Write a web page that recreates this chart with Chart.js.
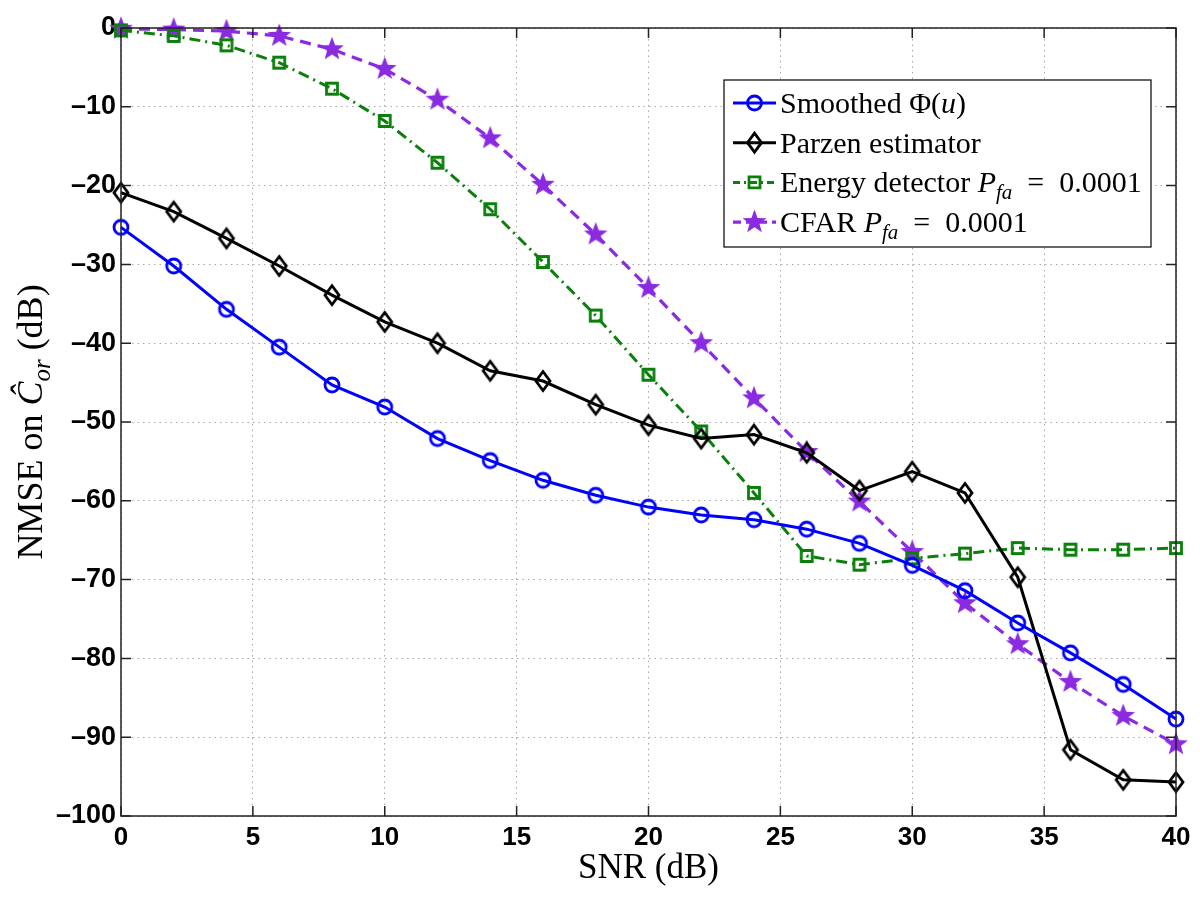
<!DOCTYPE html>
<html>
<head>
<meta charset="utf-8">
<script src="https://cdn.jsdelivr.net/npm/chart.js@4"></script>
<style>
  html, body { margin: 0; padding: 0; background: #fff; }
  #wrap { width: 1200px; height: 897px; }
</style>
</head>
<body>
<div id="wrap"><canvas id="myChart" width="1200" height="897"></canvas></div>
<script>
// SNR (dB) の値
const snr = [0, 2, 4, 6, 8, 10, 12, 14, 16, 18, 20, 22, 24, 26, 28, 30, 32, 34, 36, 38, 40];

// 各手法の NMSE (dB)
const smoothed = [-25.3, -30.2, -35.7, -40.5, -45.3, -48.1, -52.1, -54.9, -57.4, -59.3, -60.8,
                  -61.8, -62.4, -63.6, -65.4, -68.2, -71.4, -75.5, -79.3, -83.3, -87.7];
const parzen   = [-20.9, -23.3, -26.7, -30.2, -33.9, -37.3, -40.0, -43.5, -44.8, -47.8, -50.4,
                  -52.1, -51.6, -53.9, -58.7, -56.3, -59.0, -69.7, -91.6, -95.4, -95.7];
const energy   = [-0.3, -1.0, -2.2, -4.4, -7.7, -11.8, -17.1, -23.0, -29.7, -36.5, -44.0,
                  -51.2, -59.0, -67.0, -68.1, -67.3, -66.7, -66.0, -66.2, -66.2, -66.0];
const cfar     = [-0.1, -0.2, -0.4, -1.0, -2.7, -5.2, -9.1, -14.0, -19.9, -26.2, -33.0,
                  -40.0, -47.0, -53.8, -60.1, -66.5, -73.0, -78.2, -83.0, -87.3, -90.9];

const xTicks = [0, 5, 10, 15, 20, 25, 30, 35, 40];
const yTicks = [0, -10, -20, -30, -40, -50, -60, -70, -80, -90, -100];

const BLUE = '#0000ff';
const BLACK = '#000000';
const GREEN = '#0a800a';
const PURPLE = '#8a2be2';
const SERIF = '"Liberation Serif", "DejaVu Serif", serif';
const SANS = '"Liberation Sans", Arial, sans-serif';

// マーカー描画 (凡例とデータ点で共通)
function drawMarker(g, kind) {
    g.beginPath();
    if (kind === 'circle') {
        g.arc(0, 0, 7, 0, Math.PI * 2);
        g.strokeStyle = BLUE; g.lineWidth = 2.8; g.stroke();
    } else if (kind === 'diamond') {
        g.moveTo(0, -9.5); g.lineTo(7, 0); g.lineTo(0, 9.5); g.lineTo(-7, 0); g.closePath();
        g.strokeStyle = BLACK; g.lineWidth = 2.8; g.stroke();
    } else if (kind === 'square') {
        g.rect(-5.5, -5.5, 11, 11);
        g.strokeStyle = GREEN; g.lineWidth = 2.8; g.stroke();
    } else if (kind === 'star') {
        for (let i = 0; i < 10; i++) {
            const r = i % 2 === 0 ? 12.5 : 5.2;
            const a = -Math.PI / 2 + i * Math.PI / 5;
            const px = r * Math.cos(a), py = r * Math.sin(a);
            if (i === 0) g.moveTo(px, py); else g.lineTo(px, py);
        }
        g.closePath();
        g.fillStyle = PURPLE; g.fill();
    }
}

function makeMarker(kind) {
    const c = document.createElement('canvas');
    c.width = 30; c.height = 30;
    const g = c.getContext('2d');
    g.translate(15, 15);
    drawMarker(g, kind);
    return c;
}

const toPoints = ys => snr.map((x, i) => ({ x: x, y: ys[i] }));

const series = [
    { label: 'smoothed', data: smoothed, color: BLUE, marker: 'circle', dash: [], width: 3 },
    { label: 'parzen', data: parzen, color: BLACK, marker: 'diamond', dash: [], width: 3 },
    { label: 'energy', data: energy, color: GREEN, marker: 'square', dash: [11, 5, 2, 5], width: 3 },
    { label: 'cfar', data: cfar, color: PURPLE, marker: 'star', dash: [11, 7], width: 3.2 }
];

// 下付き・イタリックを含むテキストを描画
function drawRich(g, parts, x, y, size, align) {
    const fontOf = p => (p.it ? 'italic ' : '') + Math.round(size * (p.sub ? 0.7 : 1)) + 'px ' + SERIF;
    let total = 0;
    parts.forEach(p => { g.font = fontOf(p); total += g.measureText(p.t).width; });
    let cx = align === 'center' ? x - total / 2 : x;
    g.textBaseline = 'alphabetic';
    g.textAlign = 'left';
    parts.forEach(p => {
        g.font = fontOf(p);
        g.fillText(p.t, cx, y + (p.sub ? size * 0.22 : 0));
        cx += g.measureText(p.t).width;
    });
}

const legendItems = [
    { s: series[0], parts: [{ t: 'Smoothed Φ(' }, { t: 'u', it: true }, { t: ')' }] },
    { s: series[1], parts: [{ t: 'Parzen estimator' }] },
    { s: series[2], parts: [{ t: 'Energy detector ' }, { t: 'P', it: true }, { t: 'fa', it: true, sub: true }, { t: '  =  0.0001' }] },
    { s: series[3], parts: [{ t: 'CFAR ' }, { t: 'P', it: true }, { t: 'fa', it: true, sub: true }, { t: '  =  0.0001' }] }
];

const decorPlugin = {
    id: 'decor',
    afterDraw(chart) {
        const g = chart.ctx;
        const a = chart.chartArea;
        const xs = chart.scales.x, ys = chart.scales.y;
        g.save();
        // 枠線と内向きの目盛り
        g.strokeStyle = '#222';
        g.lineWidth = 1.5;
        g.strokeRect(a.left, a.top, a.right - a.left, a.bottom - a.top);
        g.beginPath();
        xTicks.forEach(v => {
            const px = xs.getPixelForValue(v);
            g.moveTo(px, a.bottom); g.lineTo(px, a.bottom - 10);
            g.moveTo(px, a.top); g.lineTo(px, a.top + 10);
        });
        yTicks.forEach(v => {
            const py = ys.getPixelForValue(v);
            g.moveTo(a.left, py); g.lineTo(a.left + 10, py);
            g.moveTo(a.right, py); g.lineTo(a.right - 10, py);
        });
        g.stroke();

        // 凡例
        const bx = 724, by = 80, bw = 427, bh = 167;
        g.fillStyle = '#fff';
        g.fillRect(bx, by, bw, bh);
        g.strokeStyle = '#000';
        g.lineWidth = 1.2;
        g.strokeRect(bx, by, bw, bh);
        legendItems.forEach((it, i) => {
            const ly = 103 + i * 39.7;
            g.save();
            g.strokeStyle = it.s.color;
            g.lineWidth = it.s.width;
            g.setLineDash(it.s.dash.length ? [7, 4, 2, 4] : []);
            if (it.s.marker === 'star') g.setLineDash([8, 5]);
            g.beginPath(); g.moveTo(733, ly); g.lineTo(776, ly); g.stroke();
            g.setLineDash([]);
            g.translate(754.5, ly);
            drawMarker(g, it.s.marker);
            g.restore();
            g.fillStyle = '#000';
            drawRich(g, it.parts, 780, ly + 10, 30, 'left');
        });

        // 軸タイトル
        g.fillStyle = '#000';
        drawRich(g, [{ t: 'SNR (dB)' }], (a.left + a.right) / 2, 878, 35, 'center');
        g.save();
        g.translate(42, (a.top + a.bottom) / 2);
        g.rotate(-Math.PI / 2);
        drawRich(g, [{ t: 'NMSE on ' }, { t: 'Ĉ', it: true }, { t: 'or', it: true, sub: true }, { t: ' (dB)' }], 0, 0, 36, 'center');
        g.restore();
        g.restore();
    }
};

const ctx = document.getElementById('myChart').getContext('2d');
const myChart = new Chart(ctx, {
    type: 'line',
    data: {
        datasets: series.map(s => ({
            label: s.label,
            data: toPoints(s.data),
            borderColor: s.color,
            backgroundColor: s.color,
            borderWidth: s.width,
            borderDash: s.dash,
            pointStyle: makeMarker(s.marker),
            pointRadius: 8,
            tension: 0,
            fill: false,
            clip: false
        }))
    },
    options: {
        responsive: false,
        animation: false,
        layout: { padding: { left: 0, right: 24, top: 28, bottom: 0 } },
        plugins: {
            legend: { display: false },
            tooltip: { enabled: false }
        },
        scales: {
            x: {
                type: 'linear',
                min: 0,
                max: 40,
                afterBuildTicks: s => { s.ticks = xTicks.map(v => ({ value: v })); },
                afterFit: s => { s.height = 81; },
                ticks: { color: '#000', padding: 6, maxRotation: 0, font: { family: SANS, size: 26, weight: 'bold' } },
                grid: { color: '#a8a8a8', lineWidth: 1, drawTicks: false },
                border: { display: false, dash: [1.5, 4] }
            },
            y: {
                type: 'linear',
                min: -100,
                max: 0,
                afterBuildTicks: s => { s.ticks = yTicks.map(v => ({ value: v })); },
                afterFit: s => { s.width = 121; },
                ticks: {
                    color: '#000', padding: 5,
                    font: { family: SANS, size: 27, weight: 'bold' },
                    callback: v => (v < 0 ? '–' + Math.abs(v) : String(v))
                },
                grid: { color: '#a8a8a8', lineWidth: 1, drawTicks: false },
                border: { display: false, dash: [1.5, 4] }
            }
        }
    },
    plugins: [decorPlugin]
});
</script>
</body>
</html>
